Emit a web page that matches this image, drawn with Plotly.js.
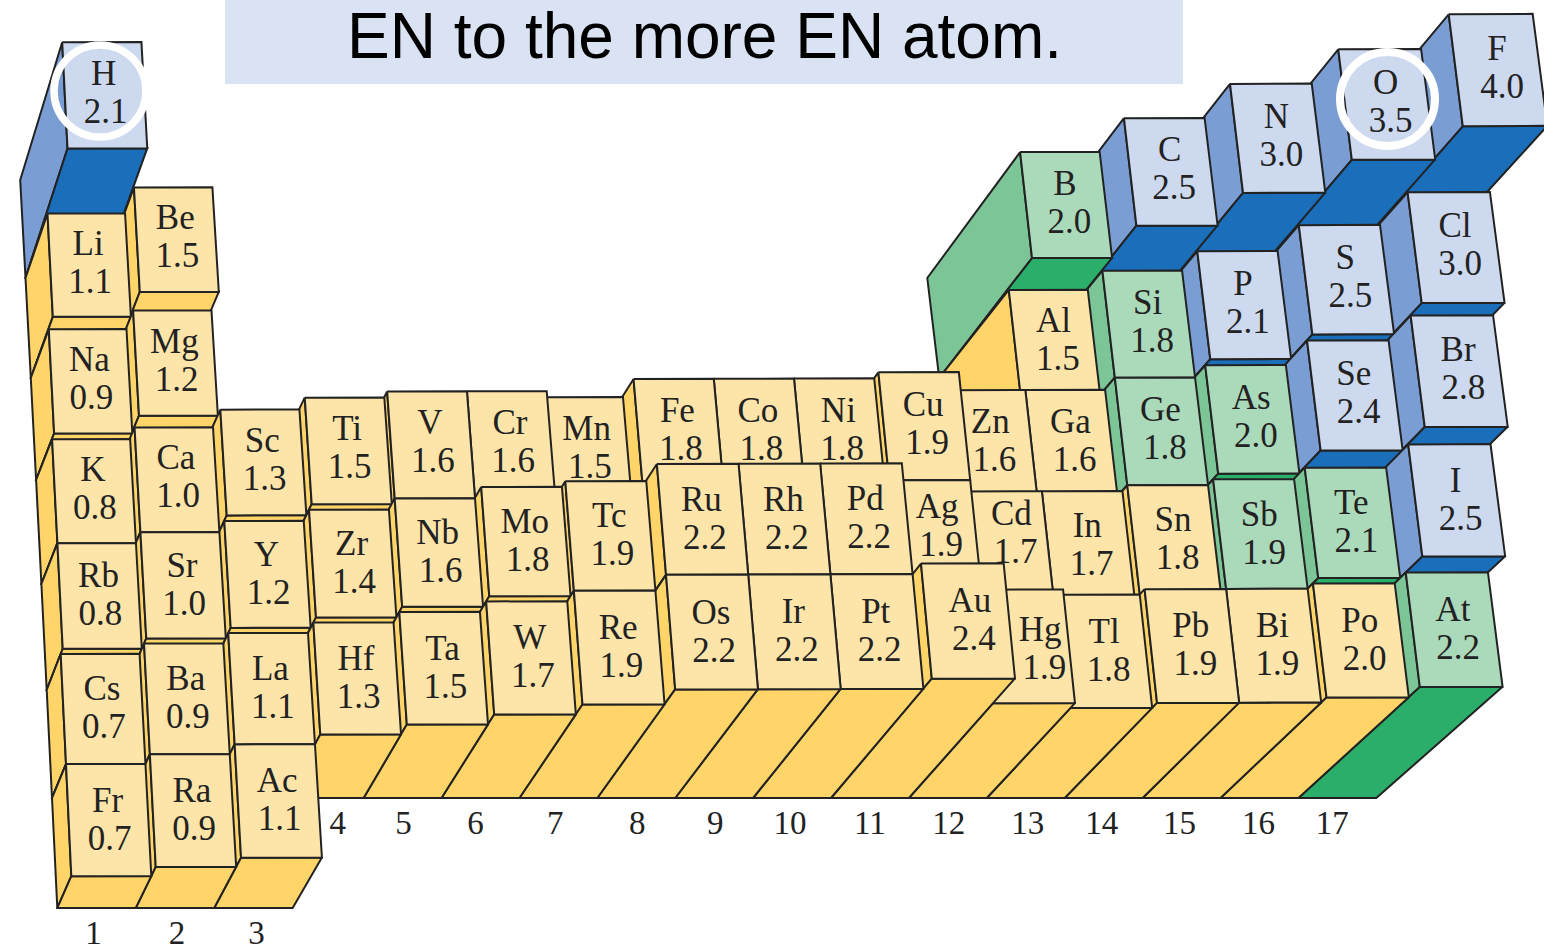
<!DOCTYPE html>
<html>
<head>
<meta charset="utf-8">
<script src="https://cdn.plot.ly/plotly-3.0.1.min.js"></script>
<style>html,body{margin:0;padding:0;background:#fff}</style>
</head>
<body>
<div id="chart" style="width:1544px;height:951px"></div>
<script>
// ---- data ----
const symbols = ["H",
  "Li","Be","B","C","N","O","F",
  "Na","Mg","Al","Si","P","S","Cl",
  "K","Ca","Sc","Ti","V","Cr","Mn","Fe","Co","Ni","Cu","Zn","Ga","Ge","As","Se","Br",
  "Rb","Sr","Y","Zr","Nb","Mo","Tc","Ru","Rh","Pd","Ag","Cd","In","Sn","Sb","Te","I",
  "Cs","Ba","La","Hf","Ta","W","Re","Os","Ir","Pt","Au","Hg","Tl","Pb","Bi","Po","At",
  "Fr","Ra","Ac"];
const electronegativity = [2.1,
  1.1,1.5,2.0,2.5,3.0,3.5,4.0,
  0.9,1.2,1.5,1.8,2.1,2.5,3.0,
  0.8,1.0,1.3,1.5,1.6,1.6,1.5,1.8,1.8,1.8,1.9,1.6,1.6,1.8,2.0,2.4,2.8,
  0.8,1.0,1.2,1.4,1.6,1.8,1.9,2.2,2.2,2.2,1.9,1.7,1.7,1.8,1.9,2.1,2.5,
  0.7,0.9,1.1,1.3,1.5,1.7,1.9,2.2,2.2,2.2,2.4,1.9,1.8,1.9,1.9,2.0,2.2,
  0.7,0.9,1.1];
const periods = [1,
  2,2,2,2,2,2,2,
  3,3,3,3,3,3,3,
  4,4,4,4,4,4,4,4,4,4,4,4,4,4,4,4,4,
  5,5,5,5,5,5,5,5,5,5,5,5,5,5,5,5,5,
  6,6,6,6,6,6,6,6,6,6,6,6,6,6,6,6,6,
  7,7,7];
const columns = [1,
  1,2,13,14,15,16,17,
  1,2,13,14,15,16,17,
  1,2,3,4,5,6,7,8,9,10,11,12,13,14,15,16,17,
  1,2,3,4,5,6,7,8,9,10,11,12,13,14,15,16,17,
  1,2,3,4,5,6,7,8,9,10,11,12,13,14,15,16,17,
  1,2,3];
const nonmetals = ["H","C","N","O","F","P","S","Cl","Se","Br","I"];
const metalloids = ["B","Si","Ge","As","Sb","Te","At"];
const groupLabels = ["1","2","3","4","5","6","7","8","9","10","11","12","13","14","15","16","17"];
const bannerText = "EN to the more EN atom.";

// ---- styling ----
const palette = {
  metal:    {top:"#FDE5A9", left:"#FFD469", front:"#FFD469"},
  nonmetal: {top:"#CCD9EF", left:"#7A9ED4", front:"#1B6EB9"},
  metalloid:{top:"#ABDABB", left:"#7CC597", front:"#2BAE69"}
};
const ink = "#222222";
// label nudges where a neighbouring box hides part of the face
const labelShift = {Ag:[3,-8], Cd:[5,-12], Hg:[13,3], Au:[3,0]};
const groupLabelShift = [-3,2,3,13,1,-5,-3,1,1,-2,0,1,2,-2,-2,-1,-5];

// ---- oblique scale: column/row/height -> page axes ----
const rowNudge = [3,6,6,5.5,3,0,0,0,0];
function nudge(i, h){
  const a = Math.floor(i), t = i-a;
  const n = rowNudge[a]*(1-t) + rowNudge[a+1]*t;
  return n*(1-h*h/12)*Math.min(1,h/0.8);
}
function project(g, i, h){
  const floorY = 180 + 98*i + i*(i-1);
  const floorX = 52 + 77.9*g - (6-i)*(5.3 + 0.55*g);
  const rise = 66.5 - 3*i + 0.12*g;
  const lean = 20 + 2.2*g;
  return [floorX + lean*h, floorY - rise*h + nudge(i,h)];
}
function face(pts, fill){
  const xs = pts.map(p=>p[0]), ys = pts.map(p=>p[1]);
  xs.push(xs[0]); ys.push(ys[0]);
  return {type:"scatter", mode:"lines", x:xs, y:ys, fill:"toself", fillcolor:fill,
          line:{color:ink, width:2, simplify:false}, hoverinfo:"skip", showlegend:false};
}

const cells = symbols.map((s,k)=>({s, en:electronegativity[k], i:periods[k]-1, g:columns[k]-1}));
cells.sort((a,b)=> a.i-b.i || b.g-a.g);

const traces = [];
cells.forEach(c=>{
  const kind = nonmetals.includes(c.s) ? "nonmetal" : metalloids.includes(c.s) ? "metalloid" : "metal";
  const col = palette[kind], g=c.g, i=c.i, h=c.en;
  traces.push(face([project(g,i,h),project(g,i+1,h),project(g,i+1,0),project(g,i,0)], col.left));
  traces.push(face([project(g,i+1,h),project(g+1,i+1,h),project(g+1,i+1,0),project(g,i+1,0)], col.front));
  traces.push(face([project(g,i,h),project(g+1,i,h),project(g+1,i+1,h),project(g,i+1,h)], col.top));
  const m = project(g+0.5,i+0.5,h);
  const sh = labelShift[c.s] || [0,0];
  const low = i>=4 ? 2 : 0;
  traces.push({type:"scatter", mode:"text",
    x:[m[0]-1+sh[0], m[0]+1+0.2*g+sh[0]], y:[m[1]-19+sh[1]+low, m[1]+19+sh[1]+low],
    text:[c.s, c.en.toFixed(1)], textposition:"middle center",
    textfont:{family:"Liberation Serif", size:35, color:"#222"}, hoverinfo:"skip", showlegend:false});
});

// group numbers sit just in front of the floor
const tx=[], ty=[];
groupLabels.forEach((t,k)=>{
  const row = k<3 ? 7 : 6;
  const p = project(k+0.5,row,0);
  tx.push(p[0] + groupLabelShift[k]); ty.push(p[1] + 28);
});
traces.push({type:"scatter", mode:"text", x:tx, y:ty, text:groupLabels, textposition:"middle center",
  textfont:{family:"Liberation Serif", size:33, color:"#222"}, hoverinfo:"skip", showlegend:false});

const layout = {
  width:1544, height:951, margin:{l:0,r:0,t:0,b:0,pad:0},
  paper_bgcolor:"#fff", plot_bgcolor:"#fff", showlegend:false,
  xaxis:{range:[0,1544], visible:false, fixedrange:true},
  yaxis:{range:[951,0], visible:false, fixedrange:true},
  title:{text:bannerText, x:704.5/1544, xanchor:"center", y:1-36/951, yanchor:"middle",
         font:{family:"Liberation Sans", size:64, color:"#000"}},
  shapes:[
    {type:"rect", xref:"x", yref:"y", x0:225, x1:1183, y0:0, y1:84, fillcolor:"#D9E3F3", line:{width:0}, layer:"below"},
    {type:"circle", xref:"x", yref:"y", x0:54, x1:146, y0:45, y1:137, line:{color:"#fff", width:7.5}, layer:"above"},
    {type:"circle", xref:"x", yref:"y", x0:1340, x1:1435, y0:52, y1:146, line:{color:"#fff", width:8}, layer:"above"}
  ]
};
Plotly.newPlot("chart", traces, layout, {displayModeBar:false, staticPlot:true});
</script>
</body>
</html>
